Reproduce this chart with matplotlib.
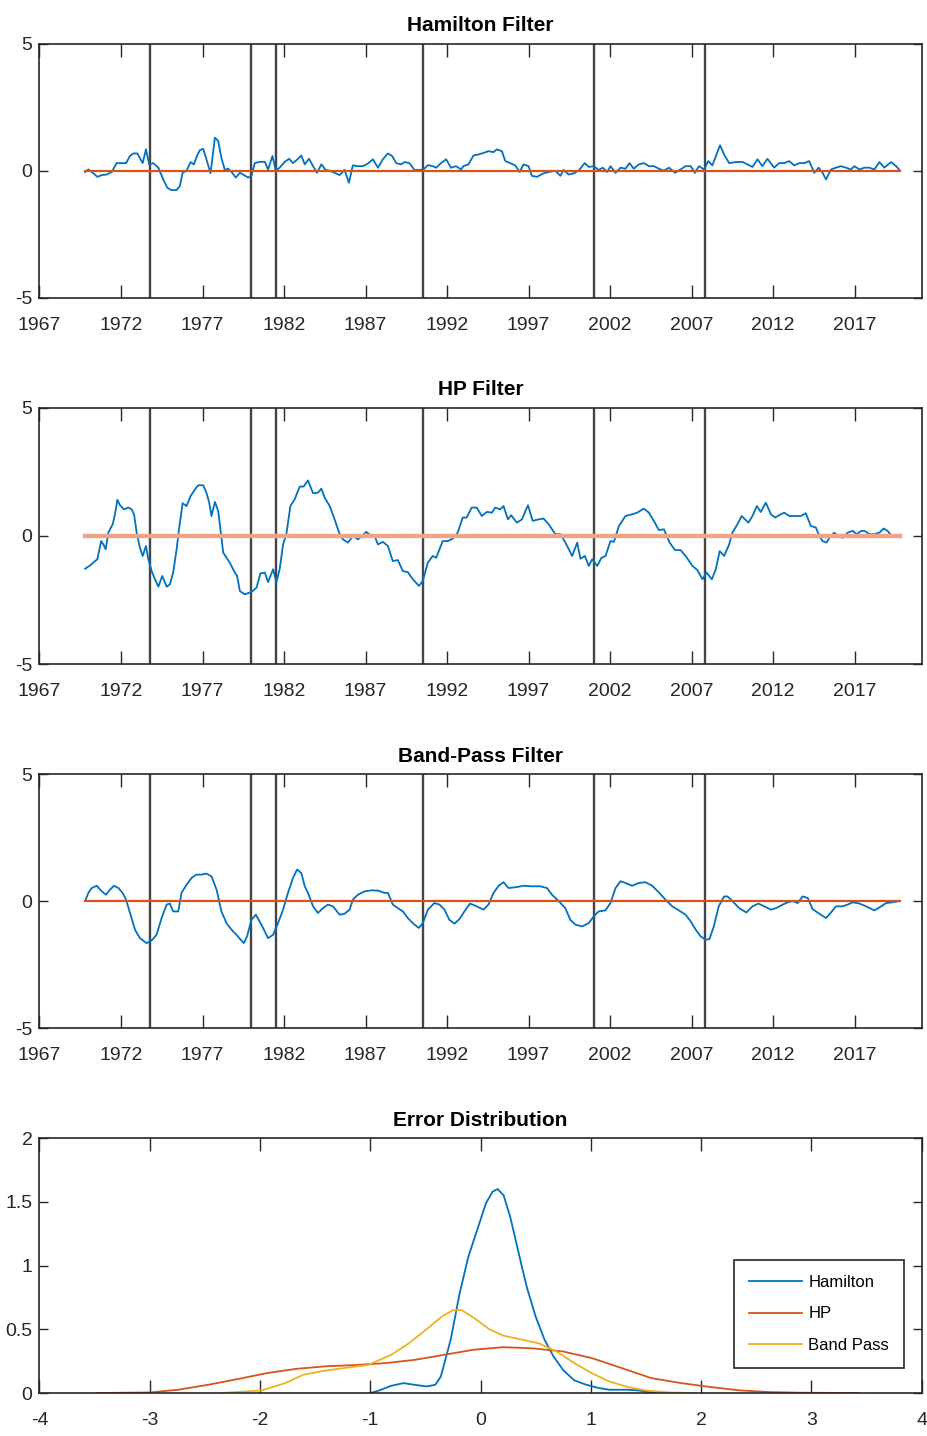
import numpy as np
import matplotlib
matplotlib.use("Agg")
import matplotlib.pyplot as plt

plt.rcParams['font.family'] = ['Liberation Sans', 'DejaVu Sans']
plt.rcParams['axes.unicode_minus'] = False

# ---- data ----
recessions = [1973.79, 1980.0, 1981.5, 1990.5, 2001.03, 2007.81]

ham_year = [1969.80, 1970.00, 1970.31, 1970.55, 1970.82, 1971.12, 1971.43, 1971.73, 1972.04, 1972.31,
            1972.55, 1972.76, 1973.00, 1973.16, 1973.33, 1973.53, 1973.73, 1973.98, 1974.29, 1974.59,
            1974.84, 1975.10, 1975.41, 1975.61, 1975.78, 1976.02, 1976.27, 1976.47, 1976.67, 1976.84,
            1977.04, 1977.24, 1977.49, 1977.76, 1977.96, 1978.16, 1978.37, 1978.57, 1978.82, 1979.04,
            1979.29, 1979.49, 1979.80, 1980.00, 1980.20, 1980.51, 1980.82, 1981.02, 1981.29, 1981.49,
            1981.73, 1982.04, 1982.31, 1982.55, 1982.86, 1983.06, 1983.27, 1983.53, 1983.78, 1984.02,
            1984.29, 1984.55, 1984.80, 1985.10, 1985.41, 1985.71, 1985.98, 1986.22, 1986.53, 1986.84,
            1987.14, 1987.45, 1987.76, 1988.06, 1988.37, 1988.63, 1988.88, 1989.18, 1989.39, 1989.69,
            1990.00, 1990.31, 1990.55, 1990.82, 1991.12, 1991.33, 1991.63, 1991.94, 1992.24, 1992.55,
            1992.86, 1993.00, 1993.31, 1993.62, 1993.93, 1994.23, 1994.54, 1994.85, 1995.05, 1995.36,
            1995.57, 1995.87, 1996.18, 1996.45, 1996.69, 1997.00, 1997.20, 1997.51, 1997.92, 1998.33,
            1998.64, 1998.95, 1999.15, 1999.46, 1999.77, 2000.07, 2000.44, 2000.69, 2001.00, 2001.30,
            2001.55, 2001.82, 2002.02, 2002.33, 2002.64, 2002.94, 2003.19, 2003.45, 2003.76, 2004.07,
            2004.38, 2004.68, 2004.99, 2005.30, 2005.61, 2005.98, 2006.32, 2006.63, 2006.94, 2007.20,
            2007.45, 2007.76, 2008.02, 2008.27, 2008.74, 2008.99, 2009.30, 2009.70, 2010.11, 2010.42,
            2010.73, 2011.04, 2011.34, 2011.65, 2012.06, 2012.37, 2012.68, 2012.98, 2013.29, 2013.60,
            2013.91, 2014.21, 2014.52, 2014.79, 2015.03, 2015.24, 2015.55, 2015.85, 2016.16, 2016.47,
            2016.77, 2016.98, 2017.29, 2017.59, 2017.90, 2018.21, 2018.52, 2018.82, 2019.23, 2019.54,
            2019.75]
ham_val = [-0.05, 0.05, -0.10, -0.24, -0.17, -0.15, -0.05, 0.30, 0.30, 0.30,
           0.58, 0.68, 0.68, 0.50, 0.30, 0.84, 0.25, 0.30, 0.12, -0.34,
           -0.67, -0.76, -0.76, -0.60, -0.08, 0.00, 0.34, 0.25, 0.60, 0.81,
           0.86, 0.45, -0.10, 1.30, 1.17, 0.50, 0.03, 0.08, -0.08, -0.27,
           -0.08, -0.15, -0.27, -0.20, 0.30, 0.35, 0.35, 0.05, 0.58, 0.00,
           0.12, 0.35, 0.47, 0.30, 0.47, 0.60, 0.25, 0.47, 0.18, -0.08,
           0.25, 0.03, 0.00, -0.08, -0.17, 0.03, -0.47, 0.21, 0.18, 0.18,
           0.28, 0.45, 0.12, 0.45, 0.68, 0.58, 0.30, 0.25, 0.34, 0.30,
           0.03, 0.03, 0.05, 0.22, 0.18, 0.12, 0.30, 0.45, 0.12, 0.18,
           0.05, 0.18, 0.25, 0.60, 0.64, 0.70, 0.77, 0.73, 0.84, 0.77,
           0.38, 0.30, 0.21, -0.05, 0.25, 0.18, -0.20, -0.24, -0.10, -0.04,
           0.00, -0.20, 0.03, -0.15, -0.10, 0.00, 0.30, 0.15, 0.18, 0.03,
           0.12, -0.05, 0.18, -0.08, 0.12, 0.08, 0.30, 0.08, 0.25, 0.30,
           0.18, 0.18, 0.08, 0.00, 0.12, -0.08, 0.05, 0.18, 0.18, -0.08,
           0.18, 0.05, 0.38, 0.21, 1.00, 0.64, 0.30, 0.34, 0.35, 0.25,
           0.15, 0.45, 0.18, 0.47, 0.12, 0.30, 0.30, 0.38, 0.21, 0.30,
           0.30, 0.38, -0.08, 0.12, -0.08, -0.34, 0.05, 0.12, 0.18, 0.12,
           0.05, 0.18, 0.05, 0.12, 0.12, 0.05, 0.34, 0.12, 0.34, 0.18,
           0.03]

hp_year = [1969.80, 1970.10, 1970.41, 1970.55, 1970.78, 1970.92, 1971.06, 1971.22, 1971.49, 1971.63,
           1971.78, 1971.94, 1972.18, 1972.45, 1972.65, 1972.80, 1972.96, 1973.16, 1973.33, 1973.53,
           1973.67, 1973.88, 1974.08, 1974.29, 1974.53, 1974.80, 1975.00, 1975.20, 1975.41, 1975.57,
           1975.78, 1976.02, 1976.27, 1976.53, 1976.73, 1977.04, 1977.24, 1977.41, 1977.55, 1977.76,
           1977.96, 1978.27, 1978.67, 1978.98, 1979.12, 1979.29, 1979.59, 1980.00, 1980.31, 1980.55,
           1980.82, 1981.02, 1981.33, 1981.53, 1981.73, 1981.94, 1982.14, 1982.39, 1982.65, 1982.96,
           1983.20, 1983.47, 1983.78, 1984.08, 1984.29, 1984.49, 1984.80, 1985.10, 1985.41, 1985.61,
           1985.92, 1986.22, 1986.53, 1986.73, 1987.04, 1987.35, 1987.55, 1987.76, 1988.06, 1988.37,
           1988.67, 1988.98, 1989.29, 1989.59, 1989.90, 1990.27, 1990.51, 1990.82, 1991.12, 1991.33,
           1991.73, 1992.04, 1992.35, 1992.65, 1992.96, 1993.20, 1993.51, 1993.82, 1994.13, 1994.44,
           1994.75, 1994.95, 1995.26, 1995.46, 1995.73, 1995.93, 1996.28, 1996.59, 1996.96, 1997.25,
           1997.62, 1997.92, 1998.23, 1998.64, 1998.95, 1999.26, 1999.67, 1999.98, 2000.18, 2000.45,
           2000.69, 2000.90, 2001.21, 2001.47, 2001.72, 2002.02, 2002.23, 2002.54, 2002.94, 2003.36,
           2003.66, 2004.07, 2004.38, 2004.68, 2004.99, 2005.30, 2005.65, 2005.98, 2006.32, 2006.63,
           2007.05, 2007.35, 2007.66, 2007.91, 2008.24, 2008.48, 2008.72, 2008.99, 2009.30, 2009.50,
           2009.81, 2010.07, 2010.48, 2010.73, 2011.00, 2011.24, 2011.55, 2011.86, 2012.12, 2012.47,
           2012.68, 2012.98, 2013.39, 2013.70, 2014.00, 2014.31, 2014.62, 2014.83, 2015.03, 2015.28,
           2015.48, 2015.75, 2015.95, 2016.26, 2016.57, 2016.88, 2017.13, 2017.40, 2017.60, 2017.91,
           2018.21, 2018.52, 2018.77, 2019.02, 2019.23, 2019.54, 2019.75]
hp_val = [-1.28, -1.15, -0.98, -0.91, -0.20, -0.33, -0.52, 0.13, 0.46, 0.85,
          1.41, 1.20, 1.04, 1.11, 1.04, 0.85, 0.13, -0.46, -0.78, -0.39,
          -0.89, -1.37, -1.69, -1.98, -1.56, -1.98, -1.89, -1.43, -0.52, 0.33,
          1.28, 1.17, 1.56, 1.82, 1.98, 1.98, 1.69, 1.30, 0.78, 1.33,
          0.98, -0.65, -1.04, -1.43, -1.56, -2.15, -2.28, -2.19, -2.02, -1.46,
          -1.43, -1.80, -1.30, -1.80, -1.30, -0.33, 0.07, 1.17, 1.43, 1.93,
          1.93, 2.17, 1.67, 1.69, 1.85, 1.50, 1.17, 0.65, 0.07, -0.13,
          -0.26, 0.00, -0.13, -0.03, 0.16, 0.00, 0.00, -0.33, -0.23, -0.39,
          -0.98, -0.94, -1.37, -1.41, -1.69, -1.95, -1.76, -1.04, -0.78, -0.85,
          -0.20, -0.20, -0.10, 0.13, 0.72, 0.72, 1.11, 1.11, 0.78, 0.94,
          0.91, 1.11, 1.04, 1.17, 0.65, 0.81, 0.52, 0.65, 1.20, 0.59,
          0.65, 0.68, 0.46, 0.07, 0.07, -0.26, -0.78, -0.26, -0.89, -0.78,
          -1.17, -0.91, -1.17, -0.85, -0.78, -0.20, -0.23, 0.39, 0.78, 0.85,
          0.91, 1.07, 0.91, 0.59, 0.23, 0.26, -0.26, -0.55, -0.55, -0.78,
          -1.17, -1.33, -1.69, -1.43, -1.69, -1.30, -0.59, -0.78, -0.33, 0.13,
          0.46, 0.78, 0.52, 0.78, 1.17, 0.94, 1.30, 0.85, 0.72, 0.85,
          0.91, 0.78, 0.78, 0.78, 0.89, 0.39, 0.33, 0.00, -0.20, -0.26,
          -0.03, 0.13, 0.00, -0.07, 0.13, 0.20, 0.07, 0.20, 0.20, 0.07,
          0.07, 0.13, 0.29, 0.20, 0.03, 0.00, 0.00]

bp_year = [1969.80, 1970.00, 1970.20, 1970.51, 1970.82, 1971.08, 1971.33, 1971.57, 1971.84, 1972.10,
           1972.31, 1972.55, 1972.86, 1973.16, 1973.57, 1973.88, 1974.18, 1974.49, 1974.80, 1975.00,
           1975.20, 1975.51, 1975.71, 1976.02, 1976.33, 1976.63, 1976.94, 1977.24, 1977.55, 1977.86,
           1978.16, 1978.47, 1978.78, 1979.08, 1979.53, 1979.73, 1980.00, 1980.27, 1980.61, 1981.02,
           1981.33, 1981.63, 1981.94, 1982.24, 1982.55, 1982.80, 1983.06, 1983.27, 1983.47, 1983.78,
           1984.08, 1984.39, 1984.69, 1985.00, 1985.41, 1985.71, 1986.02, 1986.22, 1986.53, 1986.94,
           1987.35, 1987.76, 1988.16, 1988.37, 1988.67, 1988.98, 1989.29, 1989.59, 1990.00, 1990.27,
           1990.51, 1990.82, 1991.22, 1991.53, 1991.84, 1992.14, 1992.45, 1992.76, 1993.06, 1993.41,
           1993.82, 1994.23, 1994.54, 1994.85, 1995.16, 1995.46, 1995.77, 1996.28, 1996.69, 1997.20,
           1997.72, 1998.13, 1998.43, 1998.84, 1999.25, 1999.56, 1999.87, 2000.28, 2000.69, 2001.00,
           2001.30, 2001.71, 2002.02, 2002.33, 2002.64, 2002.94, 2003.35, 2003.76, 2004.17, 2004.58,
           2004.99, 2005.40, 2005.81, 2006.22, 2006.63, 2006.94, 2007.25, 2007.55, 2007.85, 2008.09,
           2008.36, 2008.66, 2008.99, 2009.20, 2009.50, 2009.91, 2010.36, 2010.73, 2011.10, 2011.45,
           2011.86, 2012.17, 2012.47, 2012.78, 2013.19, 2013.50, 2013.81, 2014.12, 2014.42, 2014.83,
           2015.24, 2015.55, 2015.85, 2016.26, 2016.57, 2016.88, 2017.29, 2017.70, 2018.21, 2018.62,
           2018.93, 2019.34, 2019.75]
bp_val = [0.00, 0.32, 0.51, 0.60, 0.38, 0.25, 0.45, 0.60, 0.51, 0.32,
          0.05, -0.47, -1.13, -1.46, -1.66, -1.55, -1.33, -0.67, -0.14, -0.10,
          -0.41, -0.41, 0.32, 0.64, 0.91, 1.04, 1.04, 1.08, 0.97, 0.45,
          -0.41, -0.87, -1.13, -1.33, -1.66, -1.39, -0.74, -0.54, -0.93, -1.46,
          -1.33, -0.87, -0.34, 0.32, 0.91, 1.24, 1.10, 0.58, 0.32, -0.21,
          -0.47, -0.28, -0.14, -0.21, -0.54, -0.50, -0.34, 0.05, 0.25, 0.38,
          0.42, 0.41, 0.32, 0.32, -0.14, -0.28, -0.41, -0.67, -0.93, -1.06,
          -0.87, -0.34, -0.08, -0.14, -0.34, -0.74, -0.89, -0.71, -0.41, -0.10,
          -0.21, -0.34, -0.14, 0.32, 0.60, 0.74, 0.51, 0.55, 0.60, 0.58,
          0.58, 0.51, 0.25, 0.00, -0.28, -0.74, -0.93, -1.00, -0.87, -0.60,
          -0.41, -0.37, -0.08, 0.51, 0.78, 0.71, 0.60, 0.71, 0.74, 0.60,
          0.34, 0.05, -0.21, -0.37, -0.54, -0.80, -1.13, -1.39, -1.52, -1.50,
          -1.00, -0.21, 0.18, 0.18, 0.00, -0.28, -0.45, -0.21, -0.10, -0.21,
          -0.34, -0.28, -0.18, -0.08, 0.00, -0.08, 0.18, 0.12, -0.32, -0.50,
          -0.67, -0.45, -0.21, -0.21, -0.14, -0.05, -0.10, -0.21, -0.37, -0.21,
          -0.08, -0.05, 0.00]

# error densities
kde_ham_x = [-1.00, -0.92, -0.81, -0.70, -0.60, -0.49, -0.41, -0.36, -0.27, -0.19,
             -0.11, -0.03, 0.05, 0.11, 0.155, 0.21, 0.27, 0.34, 0.42, 0.50,
             0.58, 0.66, 0.75, 0.85, 0.96, 1.07, 1.17, 1.34, 1.44, 1.55, 1.60]
kde_ham_y = [0.00, 0.02, 0.057, 0.078, 0.065, 0.052, 0.065, 0.13, 0.42, 0.78,
             1.07, 1.28, 1.49, 1.58, 1.60, 1.55, 1.38, 1.12, 0.83, 0.60,
             0.42, 0.29, 0.18, 0.10, 0.065, 0.04, 0.026, 0.026, 0.02, 0.005, 0.00]
kde_hp_x = [-3.49, -3.00, -2.74, -2.47, -2.20, -1.94, -1.67, -1.40, -1.13, -0.86,
            -0.60, -0.33, -0.06, 0.21, 0.48, 0.75, 1.01, 1.28, 1.55, 1.82,
            2.09, 2.35, 2.62, 2.89, 3.43]
kde_hp_y = [0.00, 0.005, 0.026, 0.065, 0.11, 0.156, 0.19, 0.21, 0.22, 0.235,
            0.26, 0.30, 0.34, 0.36, 0.35, 0.326, 0.274, 0.196, 0.117, 0.078,
            0.047, 0.021, 0.008, 0.003, 0.00]
kde_bp_x = [-2.36, -1.99, -1.77, -1.61, -1.45, -1.24, -1.02, -0.81, -0.65, -0.49,
            -0.35, -0.25, -0.17, -0.06, 0.08, 0.21, 0.37, 0.53, 0.69, 0.85,
            1.01, 1.17, 1.34, 1.50, 1.71, 1.93]
kde_bp_y = [0.00, 0.02, 0.078, 0.143, 0.17, 0.196, 0.22, 0.30, 0.39, 0.50,
            0.60, 0.65, 0.65, 0.59, 0.50, 0.45, 0.42, 0.39, 0.326, 0.235,
            0.156, 0.09, 0.047, 0.02, 0.005, 0.00]

year_ticks = list(range(1967, 2018, 5))

BLUE = '#0072BD'
ORANGE = '#D95319'
YELLOW = '#EDB120'
AX_COL = '#262626'

fig = plt.figure(figsize=(9.27, 14.36), dpi=100)

left, width = 0.0426, 0.9515
rects = [(left, 0.7925, width, 0.1772),
         (left, 0.5376, width, 0.1783),
         (left, 0.2841, width, 0.1769),
         (left, 0.0299, width, 0.1776)]


def style(ax, title):
    for s in ax.spines.values():
        s.set_color(AX_COL)
        s.set_linewidth(1.2)
    ax.tick_params(direction='in', top=True, right=True, colors=AX_COL,
                   labelsize=14, width=1.0)
    ax.tick_params(axis='x', length=9.5, pad=13.5)
    ax.tick_params(axis='y', length=6.5, pad=5)
    ax.set_title(title, fontsize=15, fontweight='bold', pad=9)


series = [(ham_year, ham_val, 'Hamilton Filter', ORANGE, 1.6),
          (hp_year, hp_val, 'HP Filter', '#F0A487', 3.2),
          (bp_year, bp_val, 'Band-Pass Filter', ORANGE, 1.6)]

for rect, (yr, val, title, zc, zw) in zip(rects[:3], series):
    ax = fig.add_axes(rect)
    for r in recessions:
        ax.axvline(r, color='#454545', lw=1.7, zorder=1)
    ax.plot(yr, val, color=BLUE, lw=1.3, zorder=2)
    ax.plot(yr, np.zeros(len(yr)), color=zc, lw=zw, zorder=3)
    ax.set_xlim(1967, 2021.1)
    ax.set_ylim(-5, 5)
    ax.set_xticks(year_ticks)
    ax.set_yticks([-5, 0, 5])
    style(ax, title)

ax = fig.add_axes(rects[3])
ax.plot(kde_ham_x, kde_ham_y, color=BLUE, lw=1.3, label='Hamilton')
ax.plot(kde_hp_x, kde_hp_y, color=ORANGE, lw=1.3, label='HP')
ax.plot(kde_bp_x, kde_bp_y, color=YELLOW, lw=1.3, label='Band Pass')
ax.set_xlim(-4, 4)
ax.set_ylim(0, 2)
ax.set_xticks(range(-4, 5))
ax.set_yticks([0, 0.5, 1, 1.5, 2])
ax.set_yticklabels(['0', '0.5', '1', '1.5', '2'])
style(ax, 'Error Distribution')
leg = ax.legend(loc='lower right', bbox_to_anchor=(0.98, 0.098), fontsize=12,
                frameon=True, fancybox=False, framealpha=1, edgecolor=AX_COL,
                borderaxespad=0, handlelength=3.2, handletextpad=0.35,
                labelspacing=1.0, borderpad=0.9)
leg.get_frame().set_linewidth(1.2)

fig.savefig('out.png', dpi=100)
